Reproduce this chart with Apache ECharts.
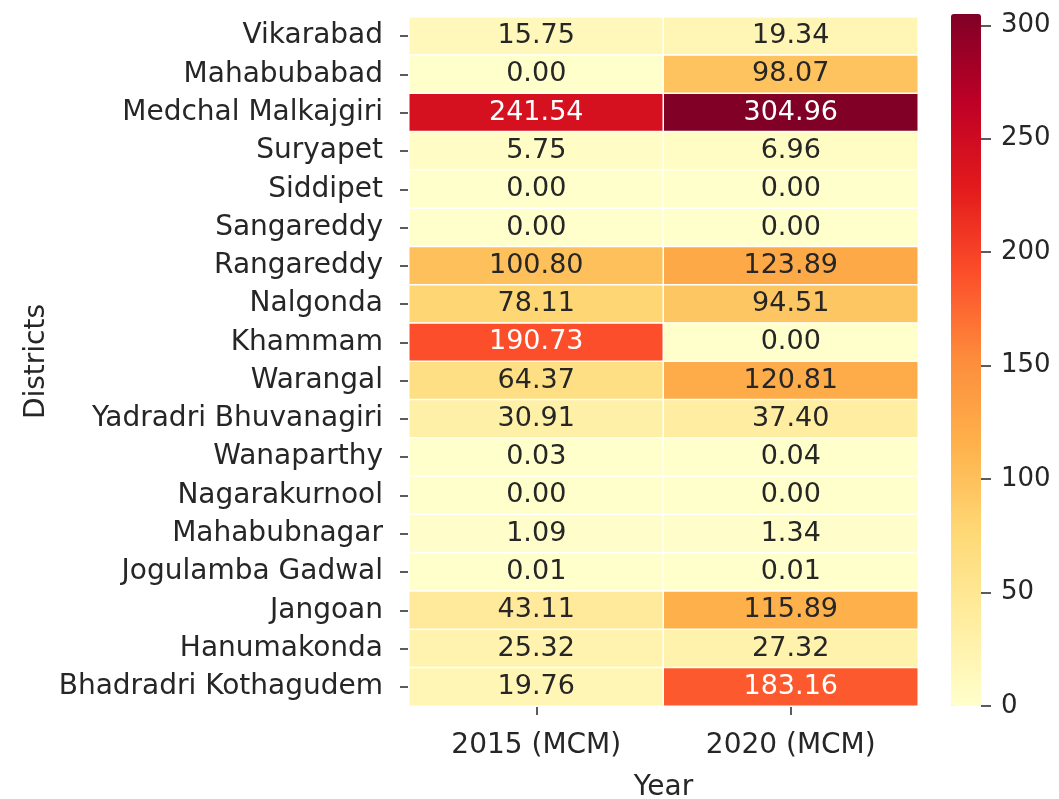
<!DOCTYPE html>
<html>
<head>
<meta charset="utf-8">
<script src="https://cdn.jsdelivr.net/npm/echarts@6/dist/echarts.min.js"></script>
<style>
  html, body { margin: 0; padding: 0; background: #fff; }
  #chart { width: 1059px; height: 799px; }
</style>
</head>
<body>
<div id="chart"></div>
<script>
// districts, top to bottom
const districts = [
  'Vikarabad', 'Mahabubabad', 'Medchal Malkajgiri', 'Suryapet', 'Siddipet',
  'Sangareddy', 'Rangareddy', 'Nalgonda', 'Khammam', 'Warangal',
  'Yadradri Bhuvanagiri', 'Wanaparthy', 'Nagarakurnool', 'Mahabubnagar',
  'Jogulamba Gadwal', 'Jangoan', 'Hanumakonda', 'Bhadradri Kothagudem'
];
const years = ['2015 (MCM)', '2020 (MCM)'];
const values2015 = [15.75, 0.00, 241.54, 5.75, 0.00, 0.00, 100.80, 78.11, 190.73, 64.37,
  30.91, 0.03, 0.00, 1.09, 0.01, 43.11, 25.32, 19.76];
const values2020 = [19.34, 98.07, 304.96, 6.96, 0.00, 0.00, 123.89, 94.51, 0.00, 120.81,
  37.40, 0.04, 0.00, 1.34, 0.01, 115.89, 27.32, 183.16];
const colorTickStep = 50;
const colorTickMax = 300;

const font = 'DejaVu Sans';
const textColor = '#262626';
const vmax = 304.96;

// YlOrRd
const ylOrRd = ['#ffffcc', '#ffeda0', '#fed976', '#feb24c', '#fd8d3c', '#fc4e2a', '#e31a1c', '#bd0026', '#800026'];

const cells = [];
[values2015, values2020].forEach((col, xi) => {
  col.forEach((v, yi) => {
    cells.push({
      value: [xi, yi, v],
      label: { color: v > 150 ? '#ffffff' : textColor }
    });
  });
});

const myChart = echarts.init(document.getElementById('chart'));

// colorbar: bar spans 0..vmax over 14..706, the tick axis 0..300 uses the same px per unit
const barTop = 14, barBottom = 706;
const pxPerUnit = (barBottom - barTop) / vmax;
const axisTop = barBottom - colorTickMax * pxPerUnit;

const option = {
  backgroundColor: '#fff',
  animation: false,
  grid: [
    { left: 409, top: 17, width: 509, height: 689, outerBoundsMode: 'none' },
    { left: 951, top: axisTop, width: 30, height: barBottom - axisTop, outerBoundsMode: 'none' }
  ],
  xAxis: [{
    type: 'category',
    data: years,
    gridIndex: 0,
    position: 'bottom',
    name: 'Year',
    nameLocation: 'middle',
    nameGap: 68,
    nameTextStyle: { fontFamily: font, fontSize: 28, color: textColor },
    axisLine: { show: false },
    axisTick: { show: true, alignWithLabel: true, length: 9, lineStyle: { color: textColor, width: 1.5 } },
    axisLabel: { fontFamily: font, fontSize: 28, color: textColor, margin: 26 },
    splitLine: { show: false }
  }, {
    type: 'category',
    data: [''],
    gridIndex: 1,
    show: false
  }],
  yAxis: [{
    type: 'category',
    data: districts,
    gridIndex: 0,
    inverse: true,
    name: 'Districts',
    nameLocation: 'middle',
    nameRotate: 90,
    nameGap: 358,
    nameTextStyle: { fontFamily: font, fontSize: 28, color: textColor },
    axisLine: { show: false },
    axisTick: { show: true, alignWithLabel: true, length: 9, lineStyle: { color: textColor, width: 1.5 } },
    axisLabel: { fontFamily: font, fontSize: 28, color: textColor, margin: 26 },
    splitLine: { show: false }
  }, {
    type: 'value',
    gridIndex: 1,
    position: 'right',
    min: 0,
    max: colorTickMax,
    interval: colorTickStep,
    axisLine: { show: false, onZero: false },
    axisTick: { show: true, inside: false, length: 10, lineStyle: { color: textColor, width: 1.5 } },
    axisLabel: { show: true, fontFamily: font, fontSize: 26, color: textColor, margin: 20 },
    splitLine: { show: false }
  }],
  visualMap: {
    type: 'continuous',
    min: 0,
    max: vmax,
    seriesIndex: 0,
    calculable: false,
    orient: 'vertical',
    left: 951,
    top: barTop,
    padding: 0,
    itemWidth: 30,
    itemHeight: barBottom - barTop,
    text: null,
    inRange: { color: ylOrRd }
  },
  series: [{
    type: 'heatmap',
    xAxisIndex: 0,
    yAxisIndex: 0,
    data: cells,
    label: {
      show: true,
      fontFamily: font,
      fontSize: 27,
      formatter: p => p.value[2].toFixed(2)
    },
    itemStyle: { borderColor: '#ffffff', borderWidth: 1.5 },
    emphasis: { disabled: true }
  }, {
    type: 'line',
    xAxisIndex: 1,
    yAxisIndex: 1,
    data: [],
    silent: true
  }]
};

myChart.setOption(option);
</script>
</body>
</html>
